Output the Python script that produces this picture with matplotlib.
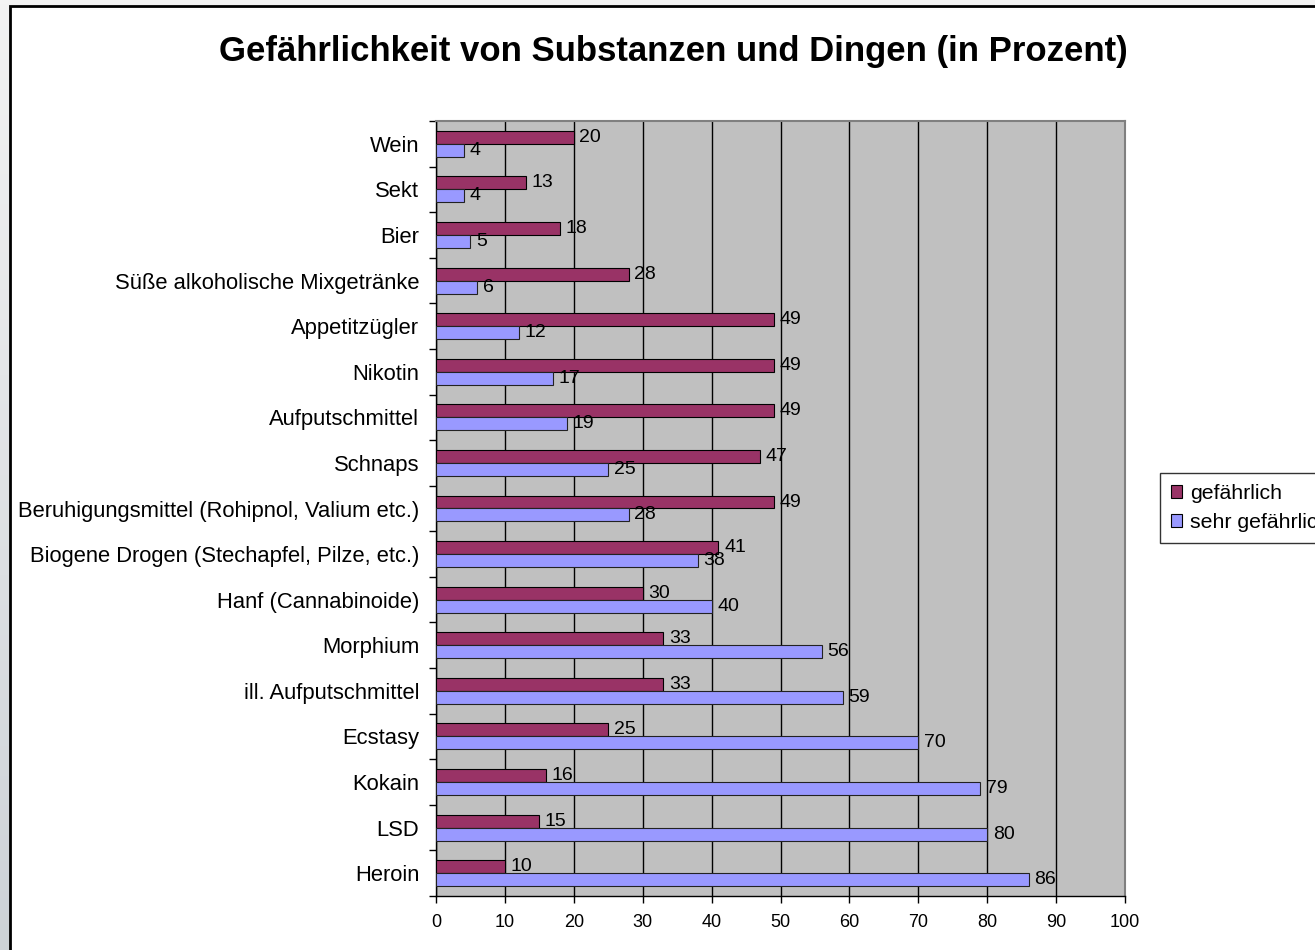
import numpy as np
import matplotlib
matplotlib.use("Agg")
import matplotlib.pyplot as plt
from matplotlib.patches import Rectangle, Patch

plt.rcParams['font.family'] = ['Liberation Sans', 'DejaVu Sans']

categories = ["Wein", "Sekt", "Bier", "Süße alkoholische Mixgetränke", "Appetitzügler",
              "Nikotin", "Aufputschmittel", "Schnaps",
              "Beruhigungsmittel (Rohipnol, Valium etc.)",
              "Biogene Drogen (Stechapfel, Pilze, etc.)", "Hanf (Cannabinoide)",
              "Morphium", "ill. Aufputschmittel", "Ecstasy", "Kokain", "LSD", "Heroin"]
gefaehrlich = [20, 13, 18, 28, 49, 49, 49, 47, 49, 41, 30, 33, 33, 25, 16, 15, 10]
sehr_gefaehrlich = [4, 4, 5, 6, 12, 17, 19, 25, 28, 38, 40, 56, 59, 70, 79, 80, 86]
series_names = ["gefährlich", "sehr gefährlich"]
x_ticks = [0, 10, 20, 30, 40, 50, 60, 70, 80, 90, 100]
title = "Gefährlichkeit von Substanzen und Dingen (in Prozent)"

W, H = 1315, 950
fig = plt.figure(figsize=(W / 100, H / 100), dpi=100)

# background: grey gradient strip + white chart area with black border
bg = fig.add_axes([0, 0, 1, 1], zorder=-10)
grad = np.linspace(0, 1, 256).reshape(-1, 1)
top_c = np.array([0xf3, 0xf3, 0xf3]) / 255
bot_c = np.array([0xcd, 0xd2, 0xd7]) / 255
img = top_c[None, None, :] * (1 - grad[:, :, None]) + bot_c[None, None, :] * grad[:, :, None]
bg.imshow(img, extent=[0, W, H, 0], aspect='auto')
bg.add_patch(Rectangle((10, 6), W + 20, H + 20, facecolor='white', edgecolor='black', linewidth=2))
bg.set_xlim(0, W)
bg.set_ylim(H, 0)
bg.axis('off')

left, right, top, bottom = 436, 1125, 121, 896
ax = fig.add_axes([left / W, 1 - bottom / H, (right - left) / W, (bottom - top) / H])
ax.set_facecolor('#C0C0C0')

n = len(categories)
y = np.arange(n)
h = 0.285
c1, c2 = '#993366', '#9999FF'
ax.barh(y - h / 2, gefaehrlich, height=h, color=c1, edgecolor='black', linewidth=0.8, zorder=3)
ax.barh(y + h / 2, sehr_gefaehrlich, height=h, color=c2, edgecolor='#222222', linewidth=0.8, zorder=3)

for yy, v in zip(y - h / 2, gefaehrlich):
    ax.annotate(str(v), (v, yy), xytext=(4, 0), textcoords='offset points',
                va='center', ha='left', fontsize=14, zorder=4)
for yy, v in zip(y + h / 2, sehr_gefaehrlich):
    ax.annotate(str(v), (v, yy), xytext=(4, 0), textcoords='offset points',
                va='center', ha='left', fontsize=14, zorder=4)

ax.set_xlim(0, 100)
ax.set_ylim(n - 0.5, -0.5)
ax.set_xticks(x_ticks)
ax.set_xticklabels([str(t) for t in x_ticks])
ax.set_yticks(y)
ax.set_yticklabels(categories)
ax.set_yticks(np.arange(n + 1) - 0.5, minor=True)
ax.tick_params(axis='y', which='major', length=0, pad=12, labelsize=15.8)
ax.tick_params(axis='y', which='minor', length=5, width=1, direction='out')
ax.tick_params(axis='x', which='major', length=5, width=1, direction='out', pad=8, labelsize=13)

ax.xaxis.grid(True, color='black', linewidth=1)
ax.set_axisbelow(True)
for s in ['top', 'right']:
    ax.spines[s].set_color('#808080')
    ax.spines[s].set_linewidth(1.5)
for s in ['left', 'bottom']:
    ax.spines[s].set_color('black')
    ax.spines[s].set_linewidth(1)

fig.text(673 / W, 1 - 52 / H, title, ha='center', va='center', fontsize=25, fontweight='bold')

handles = [Patch(facecolor=c1, edgecolor='black', linewidth=0.8),
           Patch(facecolor=c2, edgecolor='black', linewidth=0.8)]
leg = fig.legend(handles, series_names, loc='upper left',
                 bbox_to_anchor=(1160 / W, 1 - 473 / H), bbox_transform=fig.transFigure,
                 borderaxespad=0, fontsize=15.3, handlelength=0.55, handleheight=0.55,
                 handletextpad=0.35, fancybox=False, frameon=True, labelspacing=0.5,
                 borderpad=0.5)
leg.get_frame().set_edgecolor('black')
leg.get_frame().set_linewidth(1)

fig.savefig('out.png', dpi=100)
